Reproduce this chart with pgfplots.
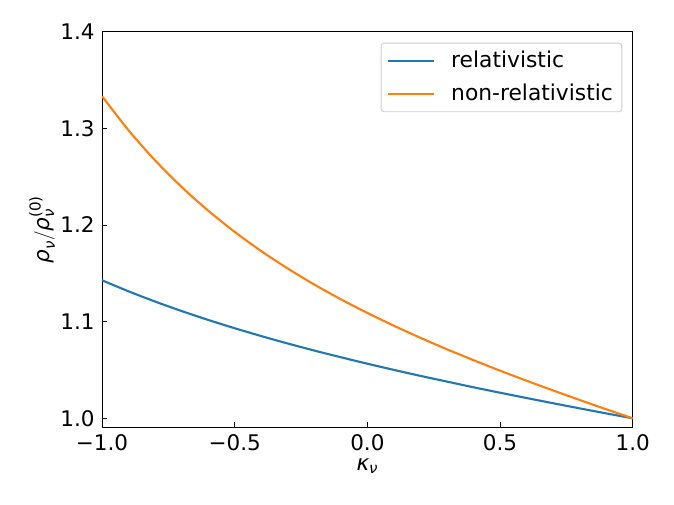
\documentclass[border=0pt]{standalone}
\usepackage{pgfplots}
\pgfplotsset{compat=1.18}
\usepackage{amsmath}
\usepackage{fontspec}
\setmainfont{DejaVu Sans}
\definecolor{c0}{HTML}{1F77B4}
\definecolor{c1}{HTML}{FF7F0E}
\pgfplotstableread{
k rel
-1.0 1.1428
-0.9 1.1314
-0.8 1.1208
-0.7 1.1110
-0.6 1.1018
-0.5 1.0932
-0.4 1.0851
-0.3 1.0774
-0.2 1.0701
-0.1 1.0632
0.0 1.0565
0.1 1.0501
0.2 1.0439
0.3 1.0380
0.4 1.0321
0.5 1.0265
0.6 1.0210
0.7 1.0156
0.8 1.0103
0.9 1.0051
1.0 1.0000
}\reltable
\pgfplotstableread{
k nonrel
-1.0 1.3333
-0.9 1.2980
-0.8 1.2669
-0.7 1.2394
-0.6 1.2149
-0.5 1.1929
-0.4 1.1730
-0.3 1.1550
-0.2 1.1384
-0.1 1.1232
0.0 1.1090
0.1 1.0958
0.2 1.0833
0.3 1.0714
0.4 1.0602
0.5 1.0493
0.6 1.0389
0.7 1.0288
0.8 1.0190
0.9 1.0094
1.0 1.0000
}\nonreltable
\begin{document}
\fontsize{21.5bp}{26bp}\selectfont
\begin{tikzpicture}
\useasboundingbox (-102bp,-77.7bp) rectangle (572bp,427.3bp);
\begin{axis}[
  at={(0,0)}, anchor=south west,
  scale only axis, width=530.7bp, height=395.6bp,
  xmin=-1, xmax=1, ymin=0.9907, ymax=1.4,
  xtick={-1,-0.5,0,0.5,1}, xticklabels={−1.0,−0.5,0.0,0.5,1.0},
  ytick={1.0,1.1,1.2,1.3,1.4}, yticklabels={1.0,1.1,1.2,1.3,1.4},
  tick align=inside, major tick length=5.2bp,
  tick style={black, line width=0.85bp},
  tick pos=left,
  axis line style={line width=0.85bp, black},
  ticklabel style={font=\fontsize{21.5bp}{26bp}\selectfont},
  xlabel={$\text{\itshape κ}_{\text{\itshape ν}}$},
  ylabel={$\text{\itshape ρ}_{\text{\itshape ν}}/\text{\itshape ρ}_{\text{\itshape ν}}^{\text{(0)}}$},
  xlabel style={at={(axis description cs:0.5,-0.0978)}, anchor=center},
  ylabel style={at={(axis description cs:-0.113,0.5)}, anchor=center},
  legend style={at={(1,1)}, anchor=north east, xshift=-10.4bp, yshift=-11bp,
    draw=black!20, line width=0.9bp, rounded corners=3bp, fill=white,
    inner xsep=6bp, inner ysep=5bp, row sep=7bp,
    font=\fontsize{21.8bp}{26bp}\selectfont,
    nodes={inner sep=3bp}},
  legend cell align=left,
  /tikz/every odd column/.append style={column sep=13bp},
  legend image code/.code={\draw[#1, line width=2.1bp] (0bp,0bp) -- (46bp,0bp);},
]
\addplot[c0, line width=2.1bp, smooth] table[x=k, y=rel] {\reltable};
\addlegendentry{relativistic}
\addplot[c1, line width=2.1bp, smooth] table[x=k, y=nonrel] {\nonreltable};
\addlegendentry{non-relativistic}
\end{axis}
\end{tikzpicture}
\end{document}
